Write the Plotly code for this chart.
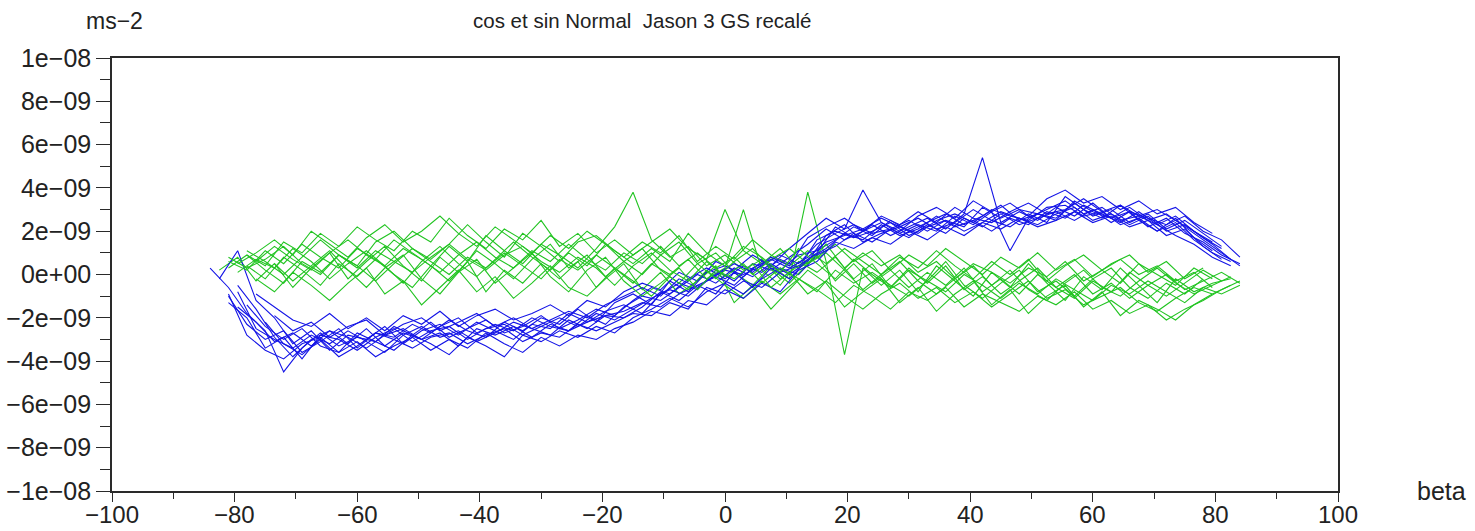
import plotly.graph_objects as go

# beta sampling grids (degrees); two interleaved grids for alternating arcs
BETA_A = [-84 + 3 * i for i in range(57)]
BETA_B = [-82.5 + 3 * i for i in range(56)]

# cosine term, normal direction (units of 1e-9 m/s^2)
COS_A1 = [0.3, -0.6, -1.8, -2.6, -4.5, -3.4, -2.7, -3.3, -2.9, -3.1,
          -2.4, -2.8, -2.2, -2.9, -2.5, -2.1, -2.7, -2.4, -1.9, -2.5,
          -2.1, -1.6, -1.9, -1.2, -0.6, -0.9, -0.2, 0.3, -0.2, 0.4,
          0.1, 0.7, 0.3, 1.6, 2.0, 1.7, 2.3, 1.8, 2.2, 2.6,
          2.1, 2.8, 5.4, 2.4, 2.9, 2.5, 3.1, 2.7, 3.3, 2.6,
          2.9, 2.2, 2.6, 1.9, 1.5, 0.9, 0.5]
COS_B1 = [-0.2, 1.1, -1.2, -2.0, -3.2, -2.6, -3.5, -2.8, -3.0, -2.4,
          -3.2, -2.6, -2.3, -2.8, -2.2, -2.6, -3.0, -2.3, -2.5, -1.8,
          -2.2, -1.7, -1.4, -1.8, -0.9, -0.4, -0.7, 0.2, -0.3, 0.5,
          0.2, 0.8, 1.4, 2.1, 1.6, 2.0, 2.4, 1.9, 2.3, 2.0,
          2.7, 2.3, 2.9, 1.1, 2.6, 3.0, 3.4, 2.8, 3.1, 2.5,
          2.7, 2.3, 1.8, 1.4, 0.8, 0.4]
COS_A2 = [None, -1.0, -2.3, -3.0, -2.6, -3.6, -3.1, -2.5, -3.4, -2.7,
          -2.9, -2.3, -2.7, -2.1, -2.6, -2.9, -2.2, -2.6, -2.0, -2.3,
          -1.6, -2.2, -1.3, -0.9, -1.4, -0.3, -0.8, 0.1, 0.4, -0.1,
          0.6, 0.2, 0.9, 1.1, 1.6, 2.2, 1.8, 2.5, 2.0, 2.4,
          2.8, 2.3, 2.7, 3.2, 2.5, 2.8, 2.6, 3.3, 2.7, 3.0,
          2.4, 2.8, 2.1, 2.5, 1.9, 1.3, None]
COS_B2 = [None, -0.5, -1.6, -2.9, -3.8, -3.0, -2.6, -3.2, -2.5, -3.3,
          -2.7, -3.0, -2.4, -2.0, -2.7, -2.3, -2.6, -2.0, -2.4, -2.6,
          -1.9, -2.3, -1.5, -1.0, -1.2, -0.6, 0.0, -0.4, 0.3, -0.1,
          0.5, 0.0, 0.6, 1.8, 2.3, 1.5, 1.9, 2.2, 2.6, 2.1,
          2.4, 3.0, 2.5, 2.2, 2.8, 2.4, 3.6, 3.0, 2.6, 3.2,
          2.5, 2.0, 2.6, 1.7, 1.1, None]
COS_A3 = [None, None, -1.4, -2.4, -3.0, -2.5, -3.3, -3.6, -2.7, -3.1,
          -3.5, -2.8, -3.2, -3.7, -2.9, -3.3, -3.8, -2.8, -3.1, -2.6,
          -2.9, -2.4, -2.7, -2.0, -1.6, -1.1, -1.5, -0.8, -0.4, -0.9,
          -0.2, 0.3, 0.0, 0.9, 1.3, 1.9, 1.5, 2.1, 1.7, 2.3,
          1.9, 2.6, 2.2, 2.8, 2.3, 2.6, 2.9, 2.5, 3.0, 2.4,
          2.9, 2.6, 2.3, 2.7, 2.0, 1.6, 0.8]
COS_B3 = [None, None, -0.9, -1.5, -2.1, -2.4, -1.8, -2.5, -2.0, -2.6,
          -1.9, -2.3, -1.7, -2.4, -1.9, -1.6, -2.1, -1.8, -1.4, -1.9,
          -1.2, -1.5, -0.8, -0.4, -0.7, 0.1, -0.3, 0.6, 0.2, 0.9,
          0.4, 1.2, 1.9, 2.6, 2.1, 3.9, 2.4, 2.0, 2.7, 3.1,
          2.6, 3.4, 2.9, 3.3, 2.7, 3.5, 3.9, 3.3, 3.6, 3.0,
          3.4, 2.8, 3.1, 2.4, 1.9, None]
COS_A4 = [None, -1.3, -2.0, -3.4, -2.9, -3.9, -2.8, -3.0, -3.5, -2.9,
          -2.5, -3.1, -2.6, -2.4, -3.0, -2.5, -2.3, -2.8, -2.4, -2.0,
          -2.4, -1.8, -2.1, -1.6, -1.1, -0.7, -1.0, -0.3, 0.2, 0.0,
          0.4, 0.9, 0.5, 1.4, 1.9, 2.3, 1.9, 2.1, 2.5, 2.0,
          2.5, 2.2, 3.1, 2.6, 3.0, 2.8, 2.5, 3.4, 2.9, 2.6,
          3.1, 2.5, 2.8, 2.2, 1.6, 1.0, 0.4]
COS_B4 = [None, -0.8, -2.5, -3.0, -3.4, -2.8, -3.2, -2.6, -3.1, -3.6,
          -2.8, -2.4, -2.9, -2.6, -3.1, -2.7, -2.2, -2.5, -2.8, -2.1,
          -2.5, -1.9, -1.7, -1.3, -1.5, -0.9, -0.5, -0.1, -0.5, 0.3,
          0.7, 0.3, 0.8, 1.5, 1.8, 2.1, 2.6, 2.2, 1.9, 2.5,
          2.8, 2.4, 3.0, 2.7, 2.5, 3.1, 3.2, 2.7, 2.9, 2.3,
          2.6, 2.0, 2.4, 1.6, 1.0, 0.6]
COS_A5 = [None, None, None, -2.2, -3.2, -3.7, -3.0, -3.8, -3.3, -2.7,
          -3.0, -3.4, -2.9, -2.7, -3.2, -2.8, -2.5, -3.1, -2.7, -2.9,
          -2.3, -2.6, -2.2, -1.8, -1.9, -1.3, -1.6, -0.6, -0.9, -0.3,
          -0.6, 0.1, 0.4, 1.0, 2.2, 1.7, 2.0, 2.4, 1.8, 2.2,
          2.5, 2.0, 2.4, 2.9, 2.6, 2.3, 2.8, 3.1, 2.5, 2.8,
          2.3, 2.7, 2.0, 2.3, 1.7, 1.2, None]
COS_B5 = [None, None, None, -1.9, -2.6, -2.2, -2.9, -2.4, -2.1, -2.8,
          -2.3, -2.0, -2.6, -2.2, -1.8, -2.4, -2.0, -2.5, -2.1, -1.7,
          -2.0, -1.4, -1.0, -0.6, -1.0, -0.2, -0.6, 0.0, 0.5, 0.1,
          0.8, 0.4, 1.7, 2.2, 2.6, 2.0, 2.7, 2.3, 2.9, 2.4,
          3.1, 2.6, 2.4, 2.9, 3.3, 2.8, 3.0, 3.5, 2.9, 3.2,
          2.7, 3.0, 2.5, 2.0, 1.5, None]
COS_A6 = [None, -0.9, -2.8, -3.5, -3.9, -3.2, -2.9, -3.6, -3.1, -3.8,
          -3.3, -2.9, -3.5, -3.0, -3.4, -2.7, -3.2, -3.6, -2.9, -3.3,
          -2.8, -3.0, -2.5, -2.2, -1.7, -1.9, -1.2, -1.4, -0.7, -1.1,
          -0.4, -0.8, 0.2, 0.6, 1.5, 1.2, 1.7, 1.4, 2.0, 1.6,
          2.2, 1.8, 2.4, 2.1, 2.6, 2.2, 2.5, 2.9, 2.4, 2.7,
          2.2, 2.5, 1.8, 2.1, 1.3, 0.7, None]
COS_B6 = [None, -1.5, -2.2, -3.1, -2.7, -3.3, -2.6, -2.9, -3.4, -2.8,
          -2.5, -3.0, -2.7, -3.3, -2.5, -2.8, -2.4, -2.9, -2.3, -2.6,
          -2.2, -1.9, -2.0, -1.5, -0.8, -1.2, -0.5, -0.9, 0.1, -0.6,
          0.3, -0.2, 0.7, 1.2, 1.9, 1.6, 2.3, 1.8, 2.1, 2.7,
          2.2, 2.5, 2.0, 2.6, 2.3, 2.9, 2.6, 3.2, 2.8, 2.4,
          2.9, 2.3, 2.7, 2.0, 1.4, 0.7]

# sine term, normal direction (units of 1e-9 m/s^2)
SIN_A1 = [None, 0.6, 0.2, 1.1, 0.5, 1.4, 0.8, 0.3, 1.2, 0.7,
          1.6, 1.0, 0.4, 1.3, 0.6, 1.8, 1.1, 0.5, 1.4, 0.9,
          0.3, 1.2, 2.2, 3.8, 1.6, 0.8, 1.3, 0.4, 0.9, 0.2,
          0.7, -0.2, 0.4, 0.9, -0.3, 0.5, -0.4, 0.2, -0.6, 0.1,
          -0.5, 0.3, -0.8, -0.2, -0.9, 0.0, -0.6, -1.1, -0.3, -0.8,
          0.1, -0.5, -1.0, -0.4, 0.2, -0.3, None]
SIN_B1 = [0.2, 0.8, -0.3, 0.5, -0.6, 0.3, 1.0, -0.2, 0.6, 1.3,
          0.4, -0.3, 0.8, 0.1, 1.1, 0.5, -0.2, 0.7, 1.4, 0.3,
          0.9, -0.1, 0.6, 1.2, 0.2, -0.4, 0.5, 1.0, 0.1, -0.5,
          0.4, -0.2, 3.8, 0.6, -3.7, 0.3, -0.5, 0.2, -0.8, 0.4,
          -0.3, -1.0, 0.1, -0.6, 0.5, -0.4, -1.2, -0.1, -0.7, 0.3,
          -0.5, -1.3, -0.2, -0.8, -0.4, -0.2]
SIN_A2 = [None, None, 0.9, 0.4, 1.5, 1.0, 1.9, 1.3, 2.2, 1.6,
          1.1, 2.0, 1.5, 2.6, 1.8, 1.2, 2.1, 1.6, 2.5, 1.3,
          1.9, 1.0, 1.6, 0.9, 1.5, 2.1, 1.2, 0.7, 3.0, 1.1,
          0.5, 1.2, 0.3, 0.8, 1.4, 0.6, 1.1, 0.2, 0.9, 0.4,
          1.2, 0.6, 0.0, 0.8, 0.3, 1.0, 0.2, 0.7, -0.1, 0.5,
          0.9, 0.1, 0.6, -0.2, 0.3, None, None]
SIN_B2 = [None, None, -0.2, -0.8, 0.1, -0.5, -1.2, -0.4, 0.3, -0.9,
          -0.3, -1.4, -0.6, 0.2, -0.8, -0.1, -1.1, -0.4, 0.4, -0.6,
          -1.0, -0.2, 0.5, -0.7, 0.1, -0.9, -0.3, 0.4, -1.3, -0.5,
          -1.6, -0.7, 0.2, -0.4, -1.5, -0.8, -0.2, -1.3, -0.6, -1.7,
          -0.9, -0.3, -1.4, -0.7, -1.8, -1.0, -0.5, -1.5, -0.8, -1.9,
          -1.2, -1.6, -2.1, -1.4, -0.9, -0.5]
SIN_A3 = [None, 0.3, 0.9, 0.2, -0.4, 0.6, 0.1, 0.9, 0.4, -0.3,
          0.5, 1.2, 0.6, 0.0, 0.8, 0.3, 1.0, 0.4, -0.2, 0.7,
          0.2, 0.9, 0.3, -0.4, 0.5, 0.0, 0.7, -0.2, 0.3, 3.0,
          0.2, -0.5, 0.6, 0.1, 0.8, -0.2, 0.5, -0.6, 0.3, -0.4,
          0.4, -0.7, -0.1, -0.9, -0.3, 0.3, -0.6, 0.0, -0.9, -0.4,
          -1.1, -0.5, 0.0, -0.7, -0.3, 0.1, -0.4]
SIN_B3 = [None, 0.5, 1.0, 1.6, 0.9, 2.0, 1.4, 0.8, 1.7, 2.3,
          1.5, 2.0, 2.7, 1.9, 1.3, 2.2, 1.6, 1.0, 1.8, 1.2,
          2.0, 1.4, 0.8, 1.5, 1.0, 1.8, 0.6, 1.3, 0.7, 1.6,
          0.9, 0.4, 1.1, 0.5, 1.2, 0.6, 0.0, 0.8, 0.3, 1.1,
          0.4, -0.2, 0.6, 0.0, 0.7, -0.3, 0.4, 0.9, 0.2, -0.4,
          0.5, 0.0, -0.5, 0.3, -0.2, None]
SIN_A4 = [None, None, 0.4, -0.2, 0.8, 0.2, -0.5, 0.5, -0.1, 0.7,
          0.0, -0.6, 0.4, -0.3, 0.6, -0.8, 0.2, -0.4, 0.5, -0.2,
          0.6, -0.6, 0.3, -0.3, -1.0, -0.1, -0.7, 0.2, -0.5, -1.1,
          -0.3, -0.9, -0.2, -0.7, -1.3, -0.5, -1.0, -1.6, -0.8, -1.2,
          -0.6, -1.5, -0.9, -1.3, -1.7, -1.0, -1.4, -0.8, -1.6, -1.2,
          -1.8, -1.4, -2.1, -1.6, -1.2, -0.7, -0.3]
SIN_B4 = [None, None, 0.6, 1.3, 0.7, 0.2, 1.0, 1.6, 0.9, 0.4,
          1.2, 0.7, 0.1, 0.9, 1.5, 0.8, 0.3, 1.1, 0.6, 1.4,
          0.7, 0.2, 1.0, 0.5, 1.3, 0.4, 1.0, 0.3, 0.8, 0.0,
          0.7, 1.2, 0.5, 1.4, 0.3, 1.0, 0.4, 0.9, 0.1, 0.6,
          -0.2, 0.5, 0.1, -0.4, 0.3, -0.1, 0.6, -0.3, 0.2, 0.7,
          0.0, 0.4, -0.3, 0.1, -0.6, None]
SIN_A5 = [None, 0.8, 0.3, 0.7, 1.3, 0.5, 0.0, 0.9, 0.3, 1.1,
          0.6, 0.1, 0.8, 1.4, 0.7, 0.2, 0.9, 1.3, 0.6, 0.1,
          0.8, 0.3, -0.5, 0.4, 1.0, 0.2, -0.3, 0.6, -0.1, 0.5,
          -0.4, 0.3, -0.2, -0.8, 0.2, -0.4, 0.1, -0.5, -1.0, -0.3,
          -0.8, 0.0, -0.5, -1.1, -0.4, -0.9, -0.2, -0.7, -1.2, -0.5,
          -0.9, -0.3, -0.8, -1.3, -0.6, -0.9, -0.5]
SIN_B5 = [None, 0.1, 0.7, 0.3, 1.2, 0.6, -0.2, 0.5, 1.1, 0.4,
          -0.4, 0.6, 1.3, 0.5, -0.1, 0.7, 1.5, 0.8, 0.2, 1.0,
          0.4, 1.4, 0.6, 0.0, 0.9, 1.5, 0.5, -0.2, 0.6, 1.2,
          0.3, -0.4, 0.5, 1.0, 0.2, -0.7, 0.0, 0.6, -0.3, -0.9,
          -0.2, 0.4, -0.5, 0.2, -0.7, -1.2, -0.4, 0.2, -0.6, -1.0,
          -0.3, 0.3, -0.4, -0.9, -0.5, -0.1]
SIN_A6 = [None, None, 1.1, 0.6, 0.0, 0.8, 1.6, 0.9, 0.4, 1.5,
          2.0, 1.2, 0.7, 1.4, 2.3, 1.5, 0.8, 1.9, 1.3, 0.6,
          1.5, 1.8, 1.1, 0.5, 1.2, 0.6, 1.9, 1.0, 0.4, 1.3,
          0.8, 0.1, 1.2, 0.5, -0.2, 0.7, 0.0, -0.6, 0.2, -0.3,
          0.6, -0.5, -1.1, -0.4, 0.2, -0.8, -0.3, -1.0, -0.2, 0.3,
          -0.6, -1.1, -0.4, -0.9, -0.2, None, None]
SIN_B6 = [None, None, None, 0.5, -0.3, 0.4, 1.1, 0.2, -0.6, 0.3,
          0.9, -0.2, -0.9, 0.1, 0.7, -0.4, 0.3, 1.0, -0.1, -0.8,
          0.2, 0.8, -0.3, -1.0, -0.4, 0.3, -0.7, 0.2, -0.2, 0.5,
          -0.6, 0.1, -0.9, -0.3, -1.0, -1.6, -0.9, -0.4, -1.1, -0.6,
          -1.3, -0.8, -1.5, -0.9, -0.3, -1.1, -0.7, -1.4, -1.0, -0.6,
          -1.3, -1.7, -1.1, -0.6, -0.9, None]

# axis ticks and labels
X_TICKS = [-100, -80, -60, -40, -20, 0, 20, 40, 60, 80, 100]
X_LABELS = ["\u2212100", "\u221280", "\u221260", "\u221240", "\u221220", "0",
            "20", "40", "60", "80", "100"]
Y_TICKS = [-1e-08, -8e-09, -6e-09, -4e-09, -2e-09, 0.0,
           2e-09, 4e-09, 6e-09, 8e-09, 1e-08]
Y_LABELS = ["\u22121e\u221208", "\u22128e\u221209", "\u22126e\u221209",
            "\u22124e\u221209", "\u22122e\u221209", "0e+00",
            "2e\u221209", "4e\u221209", "6e\u221209", "8e\u221209", "1e\u221208"]

SCALE = 1e-9
BLUE = "#1414e6"
GREEN = "#22c422"

arcs = [
    (BETA_A, COS_A1, BLUE), (BETA_B, SIN_B1, GREEN),
    (BETA_B, COS_B1, BLUE), (BETA_A, SIN_A1, GREEN),
    (BETA_A, COS_A2, BLUE), (BETA_B, SIN_B2, GREEN),
    (BETA_B, COS_B2, BLUE), (BETA_A, SIN_A2, GREEN),
    (BETA_A, COS_A3, BLUE), (BETA_B, SIN_B3, GREEN),
    (BETA_B, COS_B3, BLUE), (BETA_A, SIN_A3, GREEN),
    (BETA_A, COS_A4, BLUE), (BETA_B, SIN_B4, GREEN),
    (BETA_B, COS_B4, BLUE), (BETA_A, SIN_A4, GREEN),
    (BETA_A, COS_A5, BLUE), (BETA_A, SIN_A5, GREEN),
    (BETA_B, COS_B5, BLUE), (BETA_B, SIN_B5, GREEN),
    (BETA_A, COS_A6, BLUE), (BETA_A, SIN_A6, GREEN),
    (BETA_B, COS_B6, BLUE), (BETA_B, SIN_B6, GREEN),
]

fig = go.Figure()
for beta, vals, color in arcs:
    fig.add_trace(go.Scatter(
        x=beta,
        y=[None if v is None else v * SCALE for v in vals],
        mode="lines",
        line=dict(color=color, width=1.1),
        connectgaps=False,
        hoverinfo="skip",
    ))

FONT = "Liberation Sans, Arial, sans-serif"
AXIS_COLOR = "#2a2a2a"
TEXT_COLOR = "#222222"

# x tick labels are set as annotations so they sit tight under the short ticks
x_label_notes = [
    dict(text=lab, x=val, xref="x", y=-0.09, yref="paper",
         xanchor="center", yanchor="bottom", showarrow=False,
         font=dict(family=FONT, size=24, color=TEXT_COLOR))
    for val, lab in zip(X_TICKS, X_LABELS)
]

fig.update_layout(
    width=1475, height=531, autosize=False,
    margin=dict(l=112, r=137, t=58, b=40, autoexpand=False),
    paper_bgcolor="white", plot_bgcolor="white",
    showlegend=False,
    font=dict(family=FONT, color=TEXT_COLOR),
    xaxis=dict(
        range=[-100.0001, 100.0001], automargin=False,
        tickmode="array", tickvals=X_TICKS, showticklabels=False,
        ticks="outside", ticklen=9, tickwidth=1.3, tickcolor=AXIS_COLOR,
        minor=dict(ticks="outside", dtick=10, tick0=0, ticklen=6,
                   tickwidth=1.3, tickcolor=AXIS_COLOR, showgrid=False),
        showline=True, linecolor=AXIS_COLOR, linewidth=1.6, mirror=True,
        showgrid=False, zeroline=False,
    ),
    yaxis=dict(
        range=[-1.00001e-08, 1.00001e-08], automargin=False,
        tickmode="array", tickvals=Y_TICKS, ticktext=Y_LABELS,
        ticks="outside", ticklen=14, tickwidth=1.3, tickcolor=AXIS_COLOR,
        minor=dict(ticks="outside", dtick=1e-09, tick0=0, ticklen=10,
                   tickwidth=1.3, tickcolor=AXIS_COLOR, showgrid=False),
        showline=True, linecolor=AXIS_COLOR, linewidth=1.6, mirror=True,
        showgrid=False, zeroline=False,
        tickfont=dict(family=FONT, size=25, color=TEXT_COLOR),
    ),
    annotations=x_label_notes + [
        dict(text="cos et sin Normal\u00a0 Jason 3 GS recal\u00e9",
             xref="paper", yref="paper", x=(642 - 112) / 1226, y=1.087,
             xanchor="center", yanchor="middle", showarrow=False,
             font=dict(family=FONT, size=20.5, color=TEXT_COLOR)),
        dict(text="ms\u22122",
             xref="paper", yref="paper", x=(114 - 112) / 1226, y=1.085,
             xanchor="center", yanchor="middle", showarrow=False,
             font=dict(family=FONT, size=23, color=TEXT_COLOR)),
        dict(text="beta",
             xref="paper", yref="paper", x=(1441 - 112) / 1226, y=0.0,
             xanchor="center", yanchor="middle", showarrow=False,
             font=dict(family=FONT, size=25, color=TEXT_COLOR)),
    ],
)

fig.write_html("out.html")
